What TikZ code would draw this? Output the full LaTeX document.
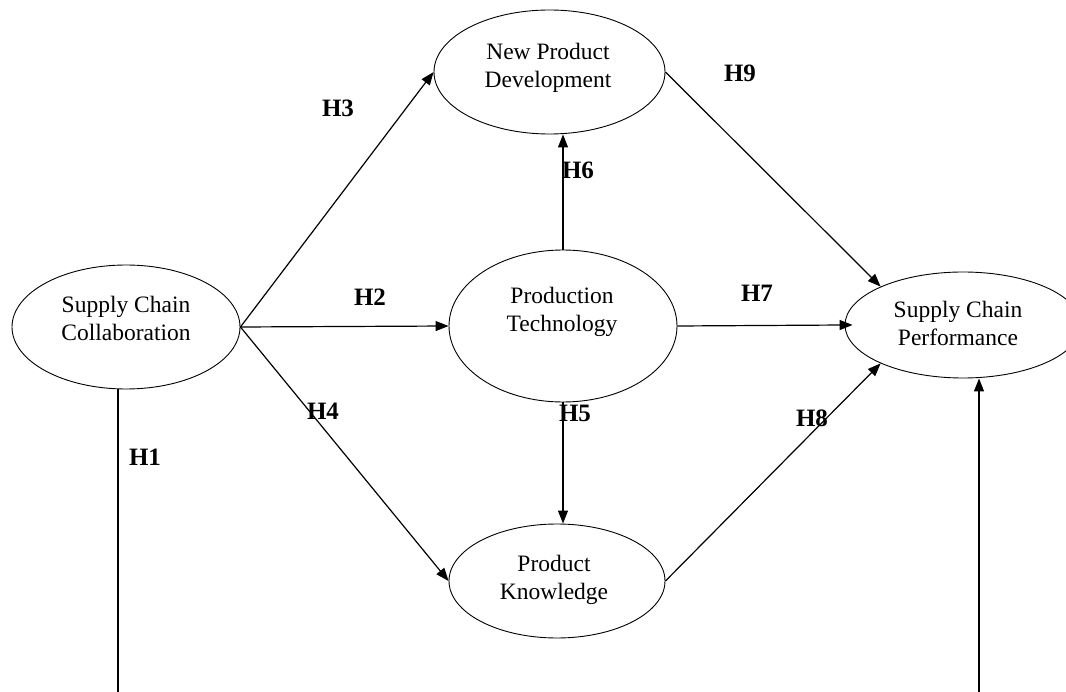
\documentclass[tikz,border=0pt]{standalone}
\usepackage{fontspec}
\setmainfont{Liberation Serif}
\usetikzlibrary{shapes.geometric,arrows.meta}
\tikzset{
  construct/.style={ellipse, draw, line width=0.9pt, inner sep=0pt},
  ctext/.style={align=center, inner sep=0pt, anchor=north,
                font=\fontsize{23.5}{27.5}\selectfont},
  hyp/.style={inner sep=0pt, font=\fontsize{25}{25}\selectfont\bfseries},
  link/.style={line width=1.2pt},
  path/.style={link, -{Triangle[length=13pt,width=10pt]}},
}
\begin{document}
\begin{tikzpicture}[x=1pt,y=-1pt]
\useasboundingbox (0,0) rectangle (1066,692);

% constructs
\node[construct, minimum width=228, minimum height=124] (SCC) at (126,327) {};
\node[construct, minimum width=231, minimum height=124] (NPD) at (549.5,72) {};
\node[construct, minimum width=228, minimum height=152] (PT)  at (563,326) {};
\node[construct, minimum width=216, minimum height=114] (PK)  at (557,581) {};
\node[construct, minimum width=236, minimum height=106] (SCP) at (963,325) {};

% construct names
\node[ctext] (SCCt) at (126,296) {Supply Chain\\Collaboration};
\node[ctext] (NPDt) at (548,43)  {New Product\\Development};
\node[ctext] (PTt)  at (562,287) {Production\\Technology};
\node[ctext] (PKt)  at (554,555) {Product\\Knowledge};
\node[ctext] (SCPt) at (958,301) {Supply Chain\\Performance};

% free ends of the direct path H1
\coordinate (h1a) at (118,695);
\coordinate (h1b) at (979,695);

% hypothesised paths
\draw[link] (SCC.south -| h1a) -- (h1a);
\draw[path] (h1b) -- (h1b |- SCP.south);
\draw[path] (SCC.east) -- (NPD.west);
\draw[path] (SCC.east) -- (PT.west);
\draw[path] (SCC.east) -- (PK.west);
\draw[path] (PT.north) -- (PT.north |- NPD.south);
\draw[path] (PT.south) -- (PT.south |- PK.north);
\draw[path, shorten >=-8pt] (PT.east) -- (SCP.west);
\draw[path] (NPD.east) -- (SCP.155);
\draw[path] (PK.east) -- (SCP.205);

% hypothesis labels
\node[hyp] (H1) at (145,457) {H1};
\node[hyp] (H2) at (370,297) {H2};
\node[hyp] (H3) at (338,108) {H3};
\node[hyp] (H4) at (323,411) {H4};
\node[hyp] (H5) at (575,413) {H5};
\node[hyp] (H6) at (578,170) {H6};
\node[hyp] (H7) at (757,293) {H7};
\node[hyp] (H8) at (812,418) {H8};
\node[hyp] (H9) at (740,73)  {H9};
\end{tikzpicture}
\end{document}
